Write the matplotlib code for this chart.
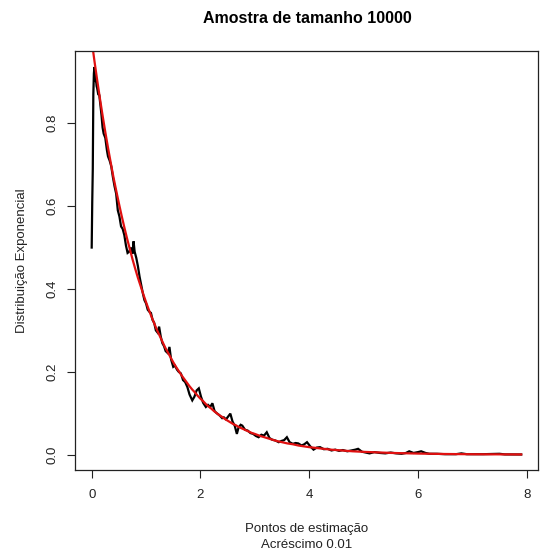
import matplotlib
matplotlib.use("Agg")
import matplotlib.pyplot as plt

plt.rcParams["font.family"] = ["Liberation Sans", "DejaVu Sans"]

# Black curve: estimated density at the estimation points
est_x = [0.00, 0.01, 0.02, 0.03, 0.04, 0.05, 0.06, 0.07, 0.08, 0.09,
         0.10, 0.12, 0.14, 0.16, 0.18, 0.20, 0.22, 0.25, 0.28, 0.30,
         0.33, 0.36, 0.39, 0.42, 0.45, 0.48, 0.51, 0.54, 0.57, 0.60,
         0.63, 0.66, 0.69, 0.72, 0.75, 0.77, 0.79, 0.82, 0.85, 0.88,
         0.91, 0.94, 0.97, 1.00, 1.03, 1.06, 1.09, 1.12, 1.15, 1.18,
         1.21, 1.24, 1.27, 1.30, 1.33, 1.36, 1.40, 1.43, 1.46, 1.50,
         1.53, 1.57, 1.60, 1.64, 1.68, 1.72, 1.76, 1.80, 1.85, 1.89,
         1.93, 1.97, 2.01, 2.05, 2.10, 2.14, 2.18, 2.22, 2.26, 2.30,
         2.35, 2.40, 2.43, 2.47, 2.51, 2.55, 2.59, 2.63, 2.67, 2.70,
         2.74, 2.77, 2.82, 2.87, 2.92, 2.97, 3.02, 3.07, 3.12, 3.17,
         3.22, 3.27, 3.32, 3.38, 3.44, 3.49, 3.54, 3.59, 3.64, 3.70,
         3.75, 3.80, 3.86, 3.91, 3.96, 4.02, 4.08, 4.14, 4.20, 4.27,
         4.34, 4.41, 4.48, 4.55, 4.62, 4.70, 4.78, 4.85, 4.90, 4.97,
         5.04, 5.11, 5.20, 5.30, 5.40, 5.50, 5.60, 5.70, 5.78, 5.84,
         5.92, 6.00, 6.06, 6.14, 6.21, 6.35, 6.50, 6.70, 6.80, 6.90,
         7.20, 7.50, 7.60, 7.90]
est_y = [0.500, 0.610, 0.690, 0.870, 0.920, 0.936, 0.915, 0.900, 0.905, 0.890,
         0.885, 0.870, 0.868, 0.845, 0.820, 0.790, 0.775, 0.765, 0.735, 0.720,
         0.710, 0.696, 0.670, 0.648, 0.630, 0.590, 0.575, 0.551, 0.545, 0.530,
         0.505, 0.487, 0.490, 0.500, 0.485, 0.515, 0.490, 0.475, 0.455, 0.430,
         0.410, 0.390, 0.373, 0.365, 0.350, 0.345, 0.342, 0.325, 0.318, 0.300,
         0.295, 0.309, 0.285, 0.269, 0.262, 0.250, 0.245, 0.260, 0.230, 0.212,
         0.215, 0.205, 0.200, 0.196, 0.180, 0.175, 0.163, 0.145, 0.131, 0.140,
         0.155, 0.160, 0.140, 0.125, 0.115, 0.120, 0.115, 0.124, 0.105, 0.100,
         0.095, 0.088, 0.090, 0.085, 0.092, 0.099, 0.080, 0.070, 0.050, 0.065,
         0.072, 0.070, 0.060, 0.058, 0.052, 0.050, 0.045, 0.042, 0.048, 0.046,
         0.054, 0.040, 0.036, 0.034, 0.030, 0.033, 0.035, 0.042, 0.030, 0.026,
         0.028, 0.027, 0.022, 0.025, 0.030, 0.020, 0.012, 0.017, 0.018, 0.013,
         0.014, 0.010, 0.012, 0.009, 0.011, 0.008, 0.010, 0.012, 0.014, 0.007,
         0.005, 0.003, 0.006, 0.004, 0.003, 0.005, 0.003, 0.002, 0.004, 0.008,
         0.004, 0.006, 0.008, 0.004, 0.002, 0.002, 0.001, 0.001, 0.003, 0.001,
         0.001, 0.002, 0.0005, 0.0003]

# Red curve: theoretical exponential density
teo_x = [0.0, 0.05, 0.1, 0.15, 0.2, 0.25, 0.3, 0.35, 0.4, 0.45, 0.5, 0.55,
         0.6, 0.65, 0.7, 0.75, 0.8, 0.85, 0.9, 0.95, 1.0, 1.05, 1.1, 1.15,
         1.2, 1.25, 1.3, 1.35, 1.4, 1.45, 1.5, 1.55, 1.6, 1.65, 1.7, 1.75,
         1.8, 1.85, 1.9, 1.95, 2.0, 2.05, 2.1, 2.15, 2.2, 2.25, 2.3, 2.35,
         2.4, 2.45, 2.5, 2.55, 2.6, 2.65, 2.7, 2.75, 2.8, 2.85, 2.9, 2.95,
         3.0, 3.1, 3.2, 3.3, 3.4, 3.5, 3.6, 3.7, 3.8, 3.9, 4.0, 4.2, 4.4,
         4.6, 4.8, 5.0, 5.5, 6.0, 6.5, 7.0, 7.5, 7.9]
teo_y = [1.000, 0.951, 0.905, 0.861, 0.819, 0.779, 0.741, 0.705, 0.670, 0.638,
         0.607, 0.577, 0.549, 0.522, 0.497, 0.472, 0.449, 0.427, 0.407, 0.387,
         0.368, 0.350, 0.333, 0.317, 0.301, 0.287, 0.273, 0.259, 0.247, 0.235,
         0.223, 0.212, 0.202, 0.192, 0.183, 0.174, 0.165, 0.157, 0.150, 0.142,
         0.135, 0.129, 0.122, 0.116, 0.111, 0.105, 0.100, 0.095, 0.091, 0.086,
         0.082, 0.078, 0.074, 0.071, 0.067, 0.064, 0.061, 0.058, 0.055, 0.052,
         0.050, 0.045, 0.041, 0.037, 0.033, 0.030, 0.027, 0.025, 0.022, 0.020,
         0.018, 0.015, 0.012, 0.010, 0.008, 0.0067, 0.0041, 0.0025, 0.0015,
         0.0009, 0.0006, 0.0004]

x_ticks = [0, 2, 4, 6, 8]
y_ticks = [0.0, 0.2, 0.4, 0.6, 0.8]

fig = plt.figure(figsize=(5.4, 5.56), dpi=100)
ax = fig.add_axes([0.138, 0.1547, 0.859, 0.7527])

ax.plot(est_x, est_y, color="black", linewidth=1.6, solid_joinstyle="miter")
ax.plot(teo_x, teo_y, color="#e01010", linewidth=1.6)

# R-style 4% padding around the black curve's range
xr = max(est_x) - min(est_x)
yr = max(est_y) - min(est_y)
ax.set_xlim(min(est_x) - 0.04 * xr, max(est_x) + 0.04 * xr)
ax.set_ylim(min(est_y) - 0.04 * yr, max(est_y) + 0.04 * yr)

ax.set_xticks(x_ticks)
ax.set_xticklabels([str(t) for t in x_ticks])
ax.set_yticks(y_ticks)
ax.set_yticklabels([f"{t:.1f}" for t in y_ticks], rotation=90, va="center")
ax.tick_params(labelsize=9.5, length=5.8, width=0.8, colors="#222222",
               labelcolor="#222222")
ax.tick_params(axis="x", pad=8)
ax.tick_params(axis="y", pad=6)
for s in ax.spines.values():
    s.set_linewidth(0.9)
    s.set_color("#222222")

ax.set_xlabel("Pontos de estimação\nAcréscimo 0.01", fontsize=9.5,
              color="#222222", labelpad=16, linespacing=1.4)
ax.set_ylabel("Distribuição Exponencial", fontsize=9.5, color="#222222")
ax.yaxis.set_label_coords(-0.1, 0.5)

fig.text(0.57, 0.966, "Amostra de tamanho 10000", ha="center", va="center",
         fontsize=11.5, fontweight="bold")

fig.savefig("out.png", dpi=100, facecolor="white")
